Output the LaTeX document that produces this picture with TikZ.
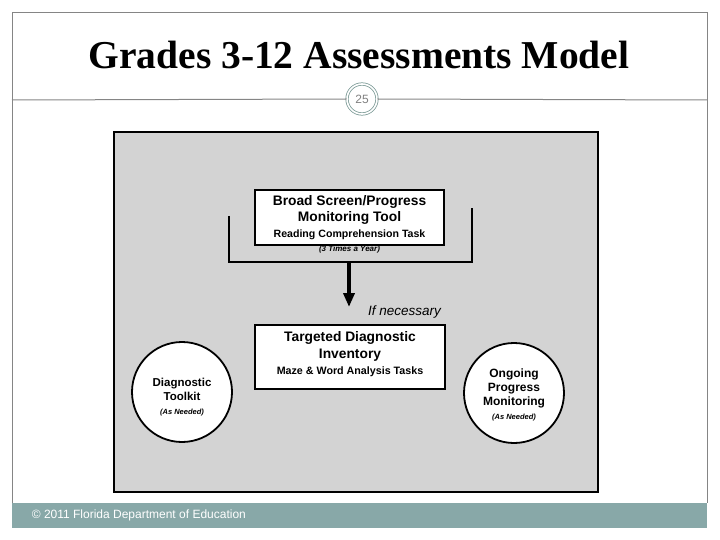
\documentclass[tikz,border=0pt]{standalone}
\usepackage{fontspec}
\setmainfont{Liberation Sans}
\newfontfamily\titlefont{Liberation Serif}
\usetikzlibrary{
  arrows.meta,
}
\definecolor{panelgrey}{HTML}{D3D3D3}
\definecolor{footerteal}{HTML}{88A8A8}
\definecolor{framegrey}{HTML}{858585}
\definecolor{ringteal}{HTML}{7E9C98}

\begin{document}
\begin{tikzpicture}[
  x=1pt, y=-1pt,
  line width=1pt,
  font=\fontsize{13.8}{16}\selectfont\bfseries,
  task/.style={
     draw,
     fill=white,
     line width=1.8pt,
     inner sep=0pt,
     align=center,
  },
  toolcircle/.style={
     circle,
     draw,
     fill=white,
     line width=1.8pt,
     minimum size=100pt,
     inner sep=0pt,
  },
  note/.style={
     font=\fontsize{8}{9}\selectfont\bfseries\itshape,
  },
  pagering/.style={
     circle,
     draw=ringteal,
     line width=0.8pt,
     double=white,
     double distance=1.6pt,
     minimum size=30pt,
     inner sep=0pt,
     text=gray,
     font=\fontsize{12}{14}\selectfont,
  },
]
   \useasboundingbox (0,0) rectangle (720,540);
   \draw[framegrey, line width=1pt] (12,503) -- (12,12.5) -- (707,12.5) -- (707,503);
   \node[font=\titlefont\fontsize{39.5}{44}\selectfont\bfseries] (title) at (359,55) {Grades 3-12 Assessments Model};
   \node[pagering] (page) at (362,99) {25};
   \draw[framegrey, line width=1pt] (12,100) -- (page.west);
   \draw[framegrey, line width=1pt] (page.east) -- (707,100);

   \node[draw, fill=panelgrey, line width=1.8pt, minimum width=484pt, minimum height=360pt] (panel) at (356,312) {};

   \node[task, minimum width=189pt, minimum height=55pt] (screen) at (349.5,217.5)
     {Broad Screen/Progress\\Monitoring Tool\\{\fontsize{10.6}{12}\selectfont Reading Comprehension Task}};
   \node[note] (freq) at (349.5,249.5) {(3 Times a Year)};

   \coordinate (bl) at (229,216);
   \coordinate (br) at (472,208);
   \coordinate (fork) at (349,262);
   \coordinate (arrowend) at (349,307);
   \draw[line width=2.5pt] (bl) |- (fork) -| (br);
   \draw[line width=3.5pt, -{Triangle[width=11pt, length=14pt]}] (fork) -- (arrowend);
   \node[font=\fontsize{13.5}{15}\selectfont\mdseries\itshape] (ifnec) at (404.5,312) {If necessary};

   \node[task, minimum width=190pt, minimum height=64pt] (tdi) at (350,357) {};
   \node[align=center, font=\fontsize{13.8}{16.5}\selectfont\bfseries] (tditext) at ([yshift=2.5pt]tdi.center)
     {Targeted Diagnostic\\Inventory\\{\fontsize{10.7}{12}\selectfont Maze \& Word Analysis Tasks}};

   \node[toolcircle] (toolkit) at (182,392) {};
   \node[align=center, font=\fontsize{11.5}{14}\selectfont\bfseries] (toolkittext) at ([yshift=-5pt]toolkit.center)
     {Diagnostic\\Toolkit\\{\fontsize{7.5}{9}\selectfont\itshape (As Needed)}};

   \node[toolcircle] (ongoing) at (514,393) {};
   \node[align=center, font=\fontsize{12}{14}\selectfont\bfseries] (ongoingtext) at ([yshift=-2pt]ongoing.center)
     {Ongoing\\Progress\\Monitoring\\{\fontsize{7.5}{9}\selectfont\itshape (As Needed)}};

   \fill[footerteal] (12,503) rectangle (707,528);
   \node[anchor=west, text=white, font=\fontsize{12}{14}\selectfont] (footer) at (28,515.5) {© 2011 Florida Department of Education};
\end{tikzpicture}
\end{document}
